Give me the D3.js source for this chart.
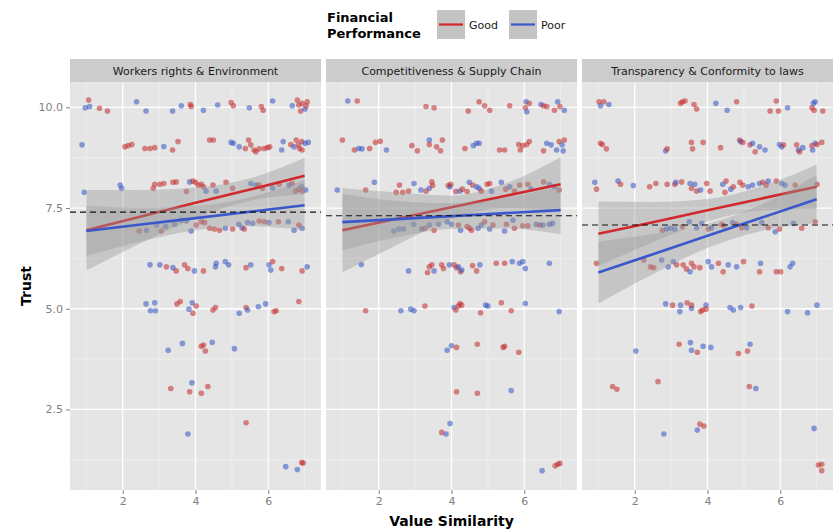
<!DOCTYPE html>
<html>
<head>
<meta charset="utf-8">
<script src="https://cdn.jsdelivr.net/npm/d3@7"></script>
<style>
  body { margin: 0; background: #fff; }
  text { font-family: "DejaVu Sans", sans-serif; }
</style>
</head>
<body>
<svg id="chart"></svg>
<script>
const width = 836, height = 531;

const facets = ["Workers rights & Environment", "Competitiveness & Supply Chain", "Transparency & Conformity to laws"];
const groups = ["Good", "Poor"];
const xTicks = [2, 4, 6];
const yTicks = [2.5, 5.0, 7.5, 10.0];
const meanTrust = [7.40, 7.31, 7.08];

// jittered points [value similarity, trust]
const workersGood = [
  [1.06,10.18],[1.36,9.98],[1.58,9.91],[3.86,10.07],[3.88,10.02],[4.98,10.12],[5.04,10.04],[5.81,10.02],[5.86,9.93],[6.80,10.18],[6.84,10.06],[6.93,10.10],[7.04,10.04],[6.89,9.91],[7.07,10.14],
  [2.06,9.02],[2.15,9.05],[2.25,9.08],[2.61,8.98],[2.75,8.98],[2.88,9.00],[3.37,8.94],[3.52,9.15],[4.39,9.19],[4.49,9.19],[5.37,8.98],[5.46,9.19],[5.52,9.07],[5.61,8.94],[5.66,8.90],[5.75,8.97],[5.89,8.98],[5.98,9.00],[6.04,9.02],[6.62,9.08],[6.77,9.19],[6.83,9.07],[6.86,8.98],[6.93,8.94],[6.92,9.15],
  [2.84,7.99],[2.88,8.09],[3.02,8.09],[3.13,8.11],[3.38,8.14],[3.47,8.15],[3.75,7.91],[3.93,8.17],[4.00,8.14],[4.07,8.07],[4.16,8.09],[4.22,8.03],[4.48,8.07],[4.84,8.14],[5.02,7.99],[5.75,8.07],[5.84,7.99],[6.30,8.09],[6.66,8.11],[6.75,7.92],[6.84,7.97],[6.93,7.92],
  [2.45,6.93],[3.06,6.93],[4.02,7.08],[4.16,7.16],[4.25,7.14],[4.39,7.00],[4.52,6.98],[4.66,6.95],[5.02,6.98],[5.34,6.98],[5.75,7.18],[5.89,7.16],[6.28,7.16],[6.84,7.08],
  [3.20,6.04],[3.47,5.94],[3.70,6.09],[3.79,6.00],[4.22,5.94],[5.39,6.02],[6.12,6.17],[6.37,6.00],[6.93,5.94],
  [3.49,5.12],[3.58,5.18],[3.93,4.89],[4.02,5.07],[4.48,4.97],[4.55,5.03],[5.39,5.03],[6.16,4.93],[6.22,4.95],[6.84,5.18],
  [4.16,4.07],[4.22,4.10],[4.27,3.95],
  [3.32,3.02],[3.84,2.94],[4.16,2.90],[4.34,3.07],
  [5.39,2.17],
  [6.92,1.18],[6.96,1.17]
];
const workersPoor = [
  [0.97,9.99],[1.09,10.02],[2.38,10.14],[2.64,9.91],[3.37,9.91],[3.61,10.04],[4.22,9.93],[4.61,10.06],[5.48,9.99],[6.12,10.16],[6.66,10.04],[7.01,9.96],
  [0.88,9.07],[3.13,9.03],[4.98,9.13],[5.04,9.11],[5.20,9.02],[6.37,8.94],[6.41,9.15],[7.01,9.11],[7.10,9.13],[6.71,9.02],
  [0.94,7.89],[1.93,8.07],[1.97,7.99],[3.84,8.15],[4.29,7.92],[4.57,7.92],[5.52,8.11],[5.66,8.07],[6.12,8.00],[6.57,8.07],[7.03,7.95],[6.92,8.03],
  [2.65,6.95],[2.93,7.08],[3.18,7.04],[3.43,7.10],[3.61,7.20],[3.75,7.18],[3.88,6.93],[4.82,7.00],[5.19,7.10],[5.28,7.01],[5.43,7.14],[5.57,7.12],[6.02,7.14],[6.55,7.16],[6.71,6.95],[6.93,7.00],
  [2.75,6.09],[3.02,6.09],[3.38,6.02],[3.97,5.94],[4.55,6.04],[4.57,6.13],[4.82,6.17],[4.91,6.09],[5.52,6.09],[6.02,6.09],[6.07,5.96],[7.07,6.04],
  [2.64,5.12],[2.88,5.15],[2.76,4.95],[2.90,4.95],[3.82,4.99],[3.91,5.15],[5.20,4.89],[5.43,4.97],[5.73,5.05],[5.93,5.12],
  [3.25,3.97],[3.64,4.14],[4.46,4.17],[5.07,4.01],
  [3.90,3.16],
  [3.79,1.89],
  [6.48,1.08],[6.80,1.01]
];
const supplyGood = [
  [1.41,10.16],[3.30,10.02],[3.52,9.99],[4.46,9.91],[4.76,10.14],[4.91,10.04],[5.05,9.93],[5.60,10.04],[6.14,10.10],[6.53,10.04],[6.62,10.02],[6.83,9.93],[6.98,10.02],[6.03,9.99],
  [1.00,9.19],[1.33,8.94],[1.75,8.98],[1.91,9.13],[2.04,9.16],[2.91,9.05],[3.06,8.92],[3.39,9.08],[3.59,9.02],[3.70,8.92],[3.75,9.19],[4.37,8.98],[5.32,8.94],[5.46,8.94],[5.85,9.08],[5.89,8.94],[5.96,9.05],[6.07,9.08],[6.14,9.15],[6.53,8.92],[6.96,9.15],[7.10,9.19],
  [1.64,7.95],[2.57,8.07],[2.48,7.89],[2.66,7.89],[2.82,7.92],[3.30,7.92],[3.46,8.15],[3.48,8.06],[3.91,8.06],[3.98,8.09],[4.12,7.91],[4.30,7.97],[4.43,7.91],[4.58,8.07],[4.82,7.92],[4.98,8.09],[5.05,8.11],[5.49,7.97],[5.73,7.92],[5.87,8.07],[6.10,8.09],[6.53,8.15],[6.96,7.95],
  [3.27,7.00],[3.52,6.95],[4.19,7.08],[4.43,7.04],[4.50,7.00],[4.55,6.95],[4.91,7.16],[5.14,7.08],[5.51,7.10],[5.73,7.00],[5.96,7.06],[6.10,7.06],[6.43,7.08],
  [3.34,5.90],[3.39,6.04],[3.46,6.09],[3.73,6.09],[3.78,6.00],[4.07,6.09],[4.14,6.02],[4.25,5.92],[4.58,6.07],[4.69,5.94],[5.23,6.13],[5.46,6.13],
  [1.64,4.95],[3.27,5.07],[4.12,4.97],[4.19,5.07],[4.23,5.13],[4.28,5.09],[4.80,4.90],[5.37,5.15],[5.64,4.95],
  [4.14,4.04],[4.71,4.12],[5.42,4.04],[5.46,4.07],[5.85,3.92],
  [4.14,2.94],[4.71,2.90],
  [3.73,1.93],
  [6.85,1.10],[6.92,1.14],[6.98,1.16]
];
const supplyPoor = [
  [1.15,10.16],[6.05,10.14],[6.07,9.89],[6.46,10.07],[6.92,10.14],[7.10,9.93],
  [1.45,8.98],[1.54,8.97],[2.21,8.94],[3.39,9.19],[4.60,9.05],[4.69,9.11],[4.76,9.11],[6.62,9.11],[6.74,9.07],[6.89,8.94],[7.04,9.07],[7.07,8.92],
  [0.86,7.95],[1.88,8.14],[2.97,8.11],[3.16,7.95],[3.39,7.99],[3.96,8.03],[4.23,7.92],[4.49,8.14],[4.69,8.03],[4.76,7.99],[5.10,7.92],[5.37,8.14],[5.60,8.03],[6.19,7.97],[6.69,8.09],[6.83,8.03],
  [2.41,6.93],[2.55,6.98],[2.68,6.98],[2.96,7.10],[3.18,6.98],[3.39,7.08],[3.64,7.10],[3.88,7.16],[4.00,7.10],[4.25,6.95],[4.73,7.00],[4.82,7.08],[5.05,6.98],[5.46,6.93],[5.69,7.20],[6.33,7.10],[6.51,7.08],[6.69,7.10],[6.78,7.12],
  [1.52,6.10],[2.82,5.94],[3.52,5.94],[3.94,6.09],[4.19,6.04],[4.28,5.96],[4.78,6.09],[5.67,6.17],[5.87,6.13],[5.96,6.17],[6.03,6.00],[6.69,6.13],
  [2.61,4.95],[2.88,4.99],[2.97,4.95],[4.07,5.03],[4.94,5.09],[5.00,5.07],[6.03,5.13],[6.96,4.93],
  [3.88,3.97],[4.00,4.08],
  [5.64,2.97],
  [3.96,2.15],[3.85,1.89],
  [6.49,0.98]
];
const lawsGood = [
  [1.02,10.14],[1.15,10.14],[3.26,10.10],[3.31,10.14],[3.38,10.16],[3.63,10.07],[3.70,9.96],[4.80,10.14],[5.72,9.91],[5.89,10.16],[5.95,9.91],[6.87,9.99],[6.93,9.93],[7.17,9.91],
  [1.06,9.11],[1.11,9.08],[1.22,8.97],[2.89,8.97],[3.56,9.13],[3.59,8.97],[3.88,9.13],[4.36,9.00],[4.88,9.19],[4.97,9.13],[5.17,9.07],[5.31,8.90],[6.09,9.07],[6.45,9.07],[6.53,8.90],[6.87,9.05],[7.01,9.08],[7.14,9.13],
  [0.95,7.97],[1.61,8.09],[2.41,8.03],[2.58,8.11],[2.89,8.09],[3.10,8.09],[3.29,8.15],[3.56,7.99],[3.70,7.92],[3.98,8.11],[4.07,7.92],[4.48,7.89],[4.51,8.17],[4.71,8.03],[4.89,8.14],[4.97,8.07],[5.52,8.14],[5.61,8.07],[5.89,8.17],[6.41,8.07],[7.01,8.09],
  [2.76,6.95],[3.31,7.04],[4.02,6.98],[4.39,7.10],[4.45,7.06],[4.80,7.10],[4.94,7.01],[5.67,7.01],[5.98,6.98],[6.59,7.00],[6.96,7.16],
  [0.95,6.13],[2.25,6.21],[2.43,6.04],[2.52,6.02],[3.15,6.09],[3.33,6.09],[3.42,5.99],[3.56,6.13],[3.63,6.04],[3.79,6.02],[4.30,6.13],[4.43,5.92],[4.99,6.17],[5.43,5.92],[5.89,5.92],[6.01,5.92],
  [3.04,5.09],[3.44,5.15],[3.56,5.09],[3.81,4.93],[3.86,4.97],[3.96,4.99],[5.22,5.07],
  [3.22,4.12],[3.72,3.92],[4.85,3.89],[5.10,3.95],
  [1.39,3.07],[1.51,3.00],[2.64,3.19],[5.15,3.07],
  [3.79,2.14],[3.90,2.09],
  [7.05,1.12],[7.14,1.14],[7.14,0.98]
];
const lawsPoor = [
  [1.06,10.04],[1.29,10.07],[4.23,10.10],[4.54,9.93],[6.20,9.99],[6.91,10.10],[6.96,10.14],
  [2.85,8.92],[4.91,9.15],[5.24,9.11],[5.43,9.02],[5.58,8.94],[5.98,9.08],[6.04,9.02],[6.50,8.94],[6.62,9.00],[6.89,8.94],[6.96,9.11],
  [0.90,8.14],[1.54,8.17],[1.96,8.06],[3.13,8.14],[3.52,8.11],[3.65,8.09],[3.81,7.95],[4.42,8.09],[4.64,7.97],[5.12,8.03],[5.24,8.07],[5.43,8.11],[5.67,8.17],[6.04,8.11],[6.13,8.07],
  [2.87,6.98],[2.98,7.00],[3.10,6.98],[3.50,7.16],[3.70,7.01],[3.84,7.12],[4.11,7.01],[4.69,7.14],[5.08,7.01],[5.49,7.14],[5.86,6.91],[6.36,7.12],
  [2.74,6.21],[2.92,6.04],[3.06,6.17],[3.52,5.92],[4.02,6.17],[4.11,6.04],[4.57,6.09],[4.80,6.04],[5.46,6.13],[6.27,6.04],[6.34,6.13],
  [2.85,5.12],[3.26,5.09],[3.24,4.93],[3.56,5.01],[3.96,5.09],[4.62,5.03],[4.71,4.97],[4.91,5.03],[6.20,4.93],[6.75,4.90],[7.01,5.09],
  [2.03,3.95],[3.53,4.16],[3.56,3.97],[3.88,4.07],[4.09,4.04],[5.17,4.12],
  [5.33,3.02],
  [2.80,1.89],[3.72,1.99],[6.93,2.03]
];

// linear fits read at these x values: fitted trust and half width of the band
const fitX = [1, 2.5, 4, 5.5, 7];
const workersGoodFit = [6.95, 7.29, 7.63, 7.96, 8.30];
const workersGoodBand = [1.00, 0.66, 0.38, 0.28, 0.45];
const workersPoorFit = [6.93, 7.09, 7.25, 7.41, 7.57];
const workersPoorBand = [0.62, 0.42, 0.30, 0.36, 0.62];
const supplyGoodFit = [6.95, 7.235, 7.52, 7.805, 8.09];
const supplyGoodBand = [1.05, 0.65, 0.29, 0.31, 0.67];
const supplyPoorFit = [7.15, 7.225, 7.30, 7.375, 7.45];
const supplyPoorBand = [0.70, 0.45, 0.32, 0.38, 0.60];
const lawsGoodFit = [6.86, 7.15, 7.445, 7.74, 8.03];
const lawsGoodBand = [0.80, 0.50, 0.28, 0.30, 0.55];
const lawsPoorFit = [5.90, 6.355, 6.81, 7.265, 7.72];
const lawsPoorBand = [0.77, 0.50, 0.30, 0.33, 0.60];

const pointSets = [[workersGood, workersPoor], [supplyGood, supplyPoor], [lawsGood, lawsPoor]];
const fits = [
  [[workersGoodFit, workersGoodBand], [workersPoorFit, workersPoorBand]],
  [[supplyGoodFit, supplyGoodBand], [supplyPoorFit, supplyPoorBand]],
  [[lawsGoodFit, lawsGoodBand], [lawsPoorFit, lawsPoorBand]]
];

const lineColor = {Good: "#d1282c", Poor: "#3a58cc"};
const pointColor = {Good: "#c42a2a", Poor: "#3353c4"};

const panelTop = 82, panelBottom = 490, panelW = 251, panelGap = 5, left0 = 70;

const svg = d3.select("#chart").attr("width", width).attr("height", height);

const x = d3.scaleLinear().domain([0.55, 7.45]).range([0, panelW]);
const y = d3.scaleLinear().domain([0.5, 10.63]).range([panelBottom, panelTop]);

facets.forEach((name, fi) => {
    const g = svg.append("g").attr("transform", `translate(${left0 + fi * (panelW + panelGap)},0)`);

    // panel + grid
    g.append("rect").attr("x", 0).attr("y", panelTop).attr("width", panelW)
     .attr("height", panelBottom - panelTop).attr("fill", "#e5e5e5");

    const minorX = [1, 3, 5, 7], minorY = [1.25, 3.75, 6.25, 8.75];
    g.selectAll(".mx").data(minorX).enter().append("line")
     .attr("x1", d => x(d)).attr("x2", d => x(d)).attr("y1", panelTop).attr("y2", panelBottom)
     .attr("stroke", "#f2f2f2").attr("stroke-width", 0.7);
    g.selectAll(".my").data(minorY).enter().append("line")
     .attr("x1", 0).attr("x2", panelW).attr("y1", d => y(d)).attr("y2", d => y(d))
     .attr("stroke", "#f2f2f2").attr("stroke-width", 0.7);
    g.selectAll(".gx").data(xTicks).enter().append("line")
     .attr("x1", d => x(d)).attr("x2", d => x(d)).attr("y1", panelTop).attr("y2", panelBottom)
     .attr("stroke", "#fff").attr("stroke-width", 1.3);
    g.selectAll(".gy").data(yTicks).enter().append("line")
     .attr("x1", 0).attr("x2", panelW).attr("y1", d => y(d)).attr("y2", d => y(d))
     .attr("stroke", "#fff").attr("stroke-width", 1.3);

    // strip
    g.append("rect").attr("x", 0).attr("y", 59).attr("width", panelW).attr("height", panelTop - 59)
     .attr("fill", "#cccccc");
    g.append("text").attr("x", panelW / 2).attr("y", 74.5).attr("text-anchor", "middle")
     .attr("font-size", 11).attr("fill", "#1a1a1a").text(name);

    // points
    const pts = [];
    pointSets[fi][1].forEach(p => pts.push({p, grp: "Poor"}));
    pointSets[fi][0].forEach(p => pts.push({p, grp: "Good"}));
    pts.sort((a, b) => a.p[0] - b.p[0]);
    g.append("g").selectAll("circle").data(pts).enter().append("circle")
     .attr("cx", d => x(d.p[0])).attr("cy", d => y(d.p[1])).attr("r", 2.8)
     .attr("fill", d => pointColor[d.grp]).attr("fill-opacity", 0.55);

    // smooth bands and lines, group by group like ggplot
    groups.forEach((grp, gi) => {
        const [fit, band] = fits[fi][gi];
        const rows = fitX.map((v, i) => ({x: v, m: fit[i], lo: fit[i] - band[i], hi: fit[i] + band[i]}));
        g.append("path").datum(rows)
         .attr("d", d3.area().x(d => x(d.x)).y0(d => y(d.lo)).y1(d => y(d.hi)).curve(d3.curveMonotoneX))
         .attr("fill", "#999999").attr("fill-opacity", 0.4);
        g.append("path").datum(rows)
         .attr("d", d3.line().x(d => x(d.x)).y(d => y(d.m)))
         .attr("fill", "none").attr("stroke", lineColor[grp]).attr("stroke-width", 2.6);
    });

    // mean line
    g.append("line").attr("x1", 0).attr("x2", panelW)
     .attr("y1", y(meanTrust[fi])).attr("y2", y(meanTrust[fi]))
     .attr("stroke", "#111").attr("stroke-width", 1.1).attr("stroke-dasharray", "6,4");

    // x axis
    const xa = g.append("g").attr("transform", `translate(0,${panelBottom})`)
     .call(d3.axisBottom(x).tickValues(xTicks).tickFormat(d3.format("d")).tickSize(4).tickPadding(3));
    xa.select(".domain").remove();
    xa.selectAll("line").attr("stroke", "#7f7f7f");
    xa.selectAll("text").attr("fill", "#7f7f7f").attr("font-size", 11).attr("font-family", "DejaVu Sans");
});

// y axis on first panel
const ya = svg.append("g").attr("transform", `translate(${left0},0)`)
  .call(d3.axisLeft(y).tickValues(yTicks).tickFormat(d3.format(".1f")).tickSize(4).tickPadding(3));
ya.select(".domain").remove();
ya.selectAll("line").attr("stroke", "#7f7f7f");
ya.selectAll("text").attr("fill", "#7f7f7f").attr("font-size", 11).attr("font-family", "DejaVu Sans");

// axis titles
svg.append("text").attr("x", left0 + (3 * panelW + 2 * panelGap) / 2).attr("y", 526)
  .attr("text-anchor", "middle").attr("font-weight", "bold").attr("font-size", 14).text("Value Similarity");
svg.append("text").attr("transform", `translate(31,${(panelTop + panelBottom) / 2}) rotate(-90)`)
  .attr("text-anchor", "middle").attr("font-weight", "bold").attr("font-size", 14).text("Trust");

// legend
const legend = svg.append("g");
legend.append("text").attr("x", 327).attr("y", 22).attr("font-weight", "bold").attr("font-size", 13).text("Financial");
legend.append("text").attr("x", 327).attr("y", 38).attr("font-weight", "bold").attr("font-size", 13).text("Performance");
const keyX = [437, 509];
groups.forEach((grp, i) => {
    legend.append("rect").attr("x", keyX[i]).attr("y", 10).attr("width", 28).attr("height", 29)
      .attr("fill", "#c4c4c4");
    legend.append("line").attr("x1", keyX[i] + 2).attr("x2", keyX[i] + 26).attr("y1", 24.5).attr("y2", 24.5)
      .attr("stroke", lineColor[grp]).attr("stroke-width", 2.2);
    legend.append("text").attr("x", keyX[i] + 32).attr("y", 28.5).attr("font-size", 11).attr("fill", "#1a1a1a").text(grp);
});
</script>
</body>
</html>
